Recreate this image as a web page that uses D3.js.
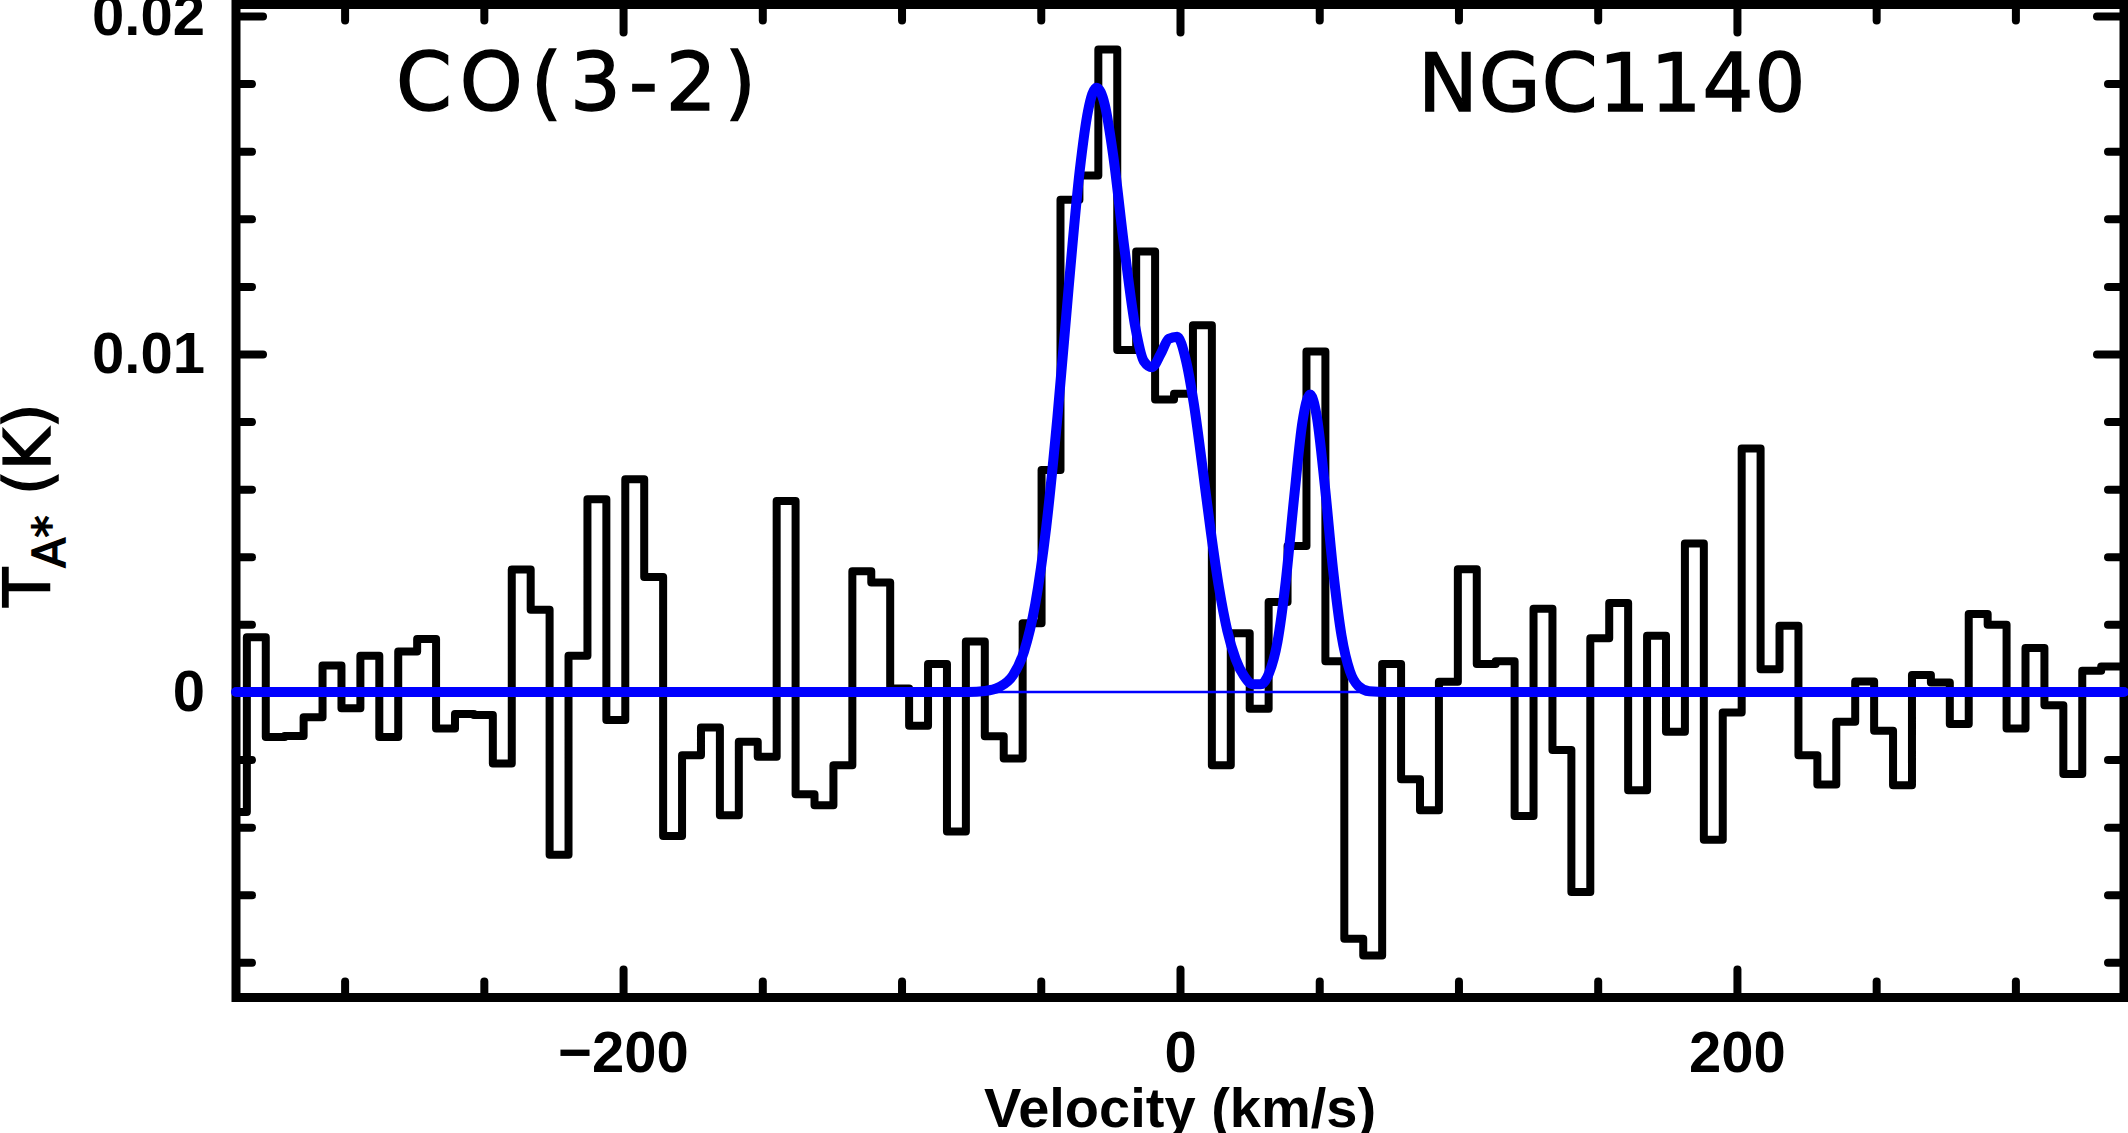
<!DOCTYPE html>
<html>
<head>
<meta charset="utf-8">
<script src="https://cdn.jsdelivr.net/npm/d3@7"></script>
<style>
  body { margin: 0; background: #fff; }
  svg { display: block; }
</style>
</head>
<body>
<div id="chart"></div>
<script>
// --------------- Data --------------- //

// channel grid of the spectrum (km/s)
const velStart = -338.5,
    velStep = 6.795;

// antenna temperature per channel (K)
const tA = [
    -0.00355, 0.00162, -0.00133, -0.00130, -0.00075, 0.00078, -0.00048, 0.00107, -0.00133, 0.00120,
    0.00157, -0.00108, -0.00065, -0.00068, -0.00212, 0.00362, 0.00243, -0.00482, 0.00107, 0.00570,
    -0.00083, 0.00629, 0.00340, -0.00426, -0.00187, -0.00105, -0.00365, -0.00147, -0.00192, 0.00565,
    -0.00303, -0.00335, -0.00217, 0.00357, 0.00324, 0.00010, -0.00100, 0.00083, -0.00413, 0.00149,
    -0.00131, -0.00197, 0.00203, 0.00657, 0.01456, 0.01528, 0.01901, 0.01012, 0.01303, 0.00865,
    0.00882, 0.01085, -0.00217, 0.00174, -0.00050, 0.00266, 0.00432, 0.01007, 0.00091, -0.00730,
    -0.00780, 0.00083, -0.00258, -0.00350, 0.00030, 0.00363, 0.00083, 0.00091, -0.00367, 0.00246,
    -0.00172, -0.00592, 0.00159, 0.00263, -0.00291, 0.00166, -0.00118, 0.00439, -0.00437, -0.00061,
    0.00720, 0.00067, 0.00196, -0.00187, -0.00274, -0.00088, 0.00031, -0.00115, -0.00276, 0.00050,
    0.00028, -0.00095, 0.00231, 0.00199, -0.00108, 0.00130, -0.00039, -0.00243, 0.00063, 0.00075,
    0.00075
];

// gaussian fit
const fitVel = [-339, -76, -70, -65, -60, -56, -52, -48, -44, -40, -36, -33, -30, -27, -24, -20,
    -16, -13, -10, -7, -4, -1, 2, 5, 8, 11, 14, 17, 20, 23, 26, 29, 32, 35, 38, 41, 44, 46.7,
    49, 52, 55, 58, 61, 64, 68, 74, 339];
const fitT = [0, 0, 0.00003, 0.00014, 0.00049, 0.0012, 0.00259, 0.0049, 0.00815, 0.01195, 0.01543,
    0.0172, 0.01788, 0.01737, 0.01588, 0.01315, 0.01077, 0.00979, 0.00961, 0.00999, 0.01045,
    0.01051, 0.00986, 0.00851, 0.00669, 0.00478, 0.00309, 0.00181, 0.00097, 0.00047, 0.00023,
    0.00023, 0.00056, 0.00148, 0.00329, 0.00577, 0.008, 0.0088, 0.00821, 0.00611, 0.00359,
    0.00167, 0.00062, 0.00018, 0.00002, 0, 0];

// ticks
const xMajor = [-200, 0, 200];
const xMinor = [-300, -250, -150, -100, -50, 50, 100, 150, 250, 300];
const yMajor = [0, 0.01, 0.02];
const yMajorText = ["0", "0.01", "0.02"];
const yMinor = [-0.008, -0.006, -0.004, -0.002, 0.002, 0.004, 0.006, 0.008,
    0.012, 0.014, 0.016, 0.018];

const xDomain = [-339, 339],
    yDomain = [-0.00904, 0.02034];

// --------------- Basic Setup --------------- //

const width = 2128,
    height = 1133;
const margin = {top: 4.5, right: 4, bottom: 135.5, left: 236};

const svg = d3.select("#chart")
    .append("svg")
    .attr("width", width)
    .attr("height", height)
    .attr("viewBox", [0, 0, width, height]);

const x = d3.scaleLinear().domain(xDomain).range([margin.left, width - margin.right]);
const y = d3.scaleLinear().domain(yDomain).range([height - margin.bottom, margin.top]);

svg.append("clipPath")
    .attr("id", "plotclip")
    .append("rect")
    .attr("x", margin.left)
    .attr("y", margin.top)
    .attr("width", width - margin.left - margin.right)
    .attr("height", height - margin.top - margin.bottom);

// --------------- Spectrum --------------- //

const spec = tA.map((t, i) => ({v: velStart + i * velStep, t: t}));
const fit = fitVel.map((v, i) => ({v: v, t: fitT[i]}));

const plot = svg.append("g").attr("clip-path", "url(#plotclip)");

plot.append("path")
    .datum(spec)
    .attr("fill", "none")
    .attr("stroke", "#000")
    .attr("stroke-width", 8)
    .attr("stroke-linejoin", "round")
    .attr("d", d3.line().x(d => x(d.v)).y(d => y(d.t)).curve(d3.curveStep));

// zero line
plot.append("line")
    .attr("x1", x(xDomain[0]))
    .attr("x2", x(xDomain[1]))
    .attr("y1", y(0))
    .attr("y2", y(0))
    .attr("stroke", "#0000ff")
    .attr("stroke-width", 2.5);

// --------------- Axes --------------- //

const tickFont = "'Liberation Sans', Arial, sans-serif";

function styleAxis(g) {
    g.select(".domain").remove();
    g.selectAll(".tick line")
        .attr("stroke", "#000")
        .attr("stroke-width", 8)
        .attr("stroke-linecap", "round");
    g.selectAll(".tick text")
        .attr("fill", "#000")
        .attr("font-family", tickFont)
        .attr("font-weight", "bold")
        .attr("font-size", 58);
}

const yB = height - margin.bottom,
    xL = margin.left,
    xR = width - margin.right;

// bottom
svg.append("g")
    .attr("transform", `translate(0,${yB})`)
    .call(d3.axisBottom(x).tickValues(xMajor).tickSize(-28).tickSizeOuter(0).tickPadding(33))
    .call(styleAxis);
svg.append("g")
    .attr("transform", `translate(0,${yB})`)
    .call(d3.axisBottom(x).tickValues(xMinor).tickSize(-16).tickSizeOuter(0).tickFormat(""))
    .call(styleAxis);
// top
svg.append("g")
    .attr("transform", `translate(0,${margin.top})`)
    .call(d3.axisTop(x).tickValues(xMajor).tickSize(-28).tickSizeOuter(0).tickFormat(""))
    .call(styleAxis);
svg.append("g")
    .attr("transform", `translate(0,${margin.top})`)
    .call(d3.axisTop(x).tickValues(xMinor).tickSize(-16).tickSizeOuter(0).tickFormat(""))
    .call(styleAxis);
// left
svg.append("g")
    .attr("transform", `translate(${xL},0)`)
    .call(d3.axisLeft(y).tickValues(yMajor).tickSize(-27).tickSizeOuter(0).tickPadding(31)
        .tickFormat((d, i) => yMajorText[i]))
    .call(styleAxis);
svg.append("g")
    .attr("transform", `translate(${xL},0)`)
    .call(d3.axisLeft(y).tickValues(yMinor).tickSize(-16).tickSizeOuter(0).tickFormat(""))
    .call(styleAxis);
// right
svg.append("g")
    .attr("transform", `translate(${xR},0)`)
    .call(d3.axisRight(y).tickValues(yMajor).tickSize(-27).tickSizeOuter(0).tickFormat(""))
    .call(styleAxis);
svg.append("g")
    .attr("transform", `translate(${xR},0)`)
    .call(d3.axisRight(y).tickValues(yMinor).tickSize(-16).tickSizeOuter(0).tickFormat(""))
    .call(styleAxis);

// frame
svg.append("rect")
    .attr("x", xL)
    .attr("y", margin.top)
    .attr("width", xR - xL)
    .attr("height", yB - margin.top)
    .attr("fill", "none")
    .attr("stroke", "#000")
    .attr("stroke-width", 9);

// fit on top of the frame, like the original plot
svg.append("path")
    .datum(fit)
    .attr("fill", "none")
    .attr("stroke", "#0000ff")
    .attr("stroke-width", 10)
    .attr("stroke-linejoin", "round")
    .attr("stroke-linecap", "round")
    .attr("d", d3.line().x(d => x(d.v)).y(d => y(d.t)).curve(d3.curveMonotoneX));

// --------------- Labels --------------- //

svg.append("text")
    .attr("x", (xL + xR) / 2)
    .attr("y", 1127)
    .attr("text-anchor", "middle")
    .attr("font-family", tickFont)
    .attr("font-weight", "bold")
    .attr("font-size", 56)
    .text("Velocity (km/s)");

const yTitle = svg.append("text")
    .attr("transform", `translate(50,${(margin.top + yB) / 2 + 4}) rotate(-90)`)
    .attr("text-anchor", "middle")
    .attr("font-family", "'DejaVu Sans', sans-serif")
    .attr("font-size", 64)
    .attr("stroke", "#000")
    .attr("stroke-width", 1.5);
yTitle.append("tspan").text("T");
yTitle.append("tspan").attr("font-size", 44).attr("dy", 15).text("A*");
yTitle.append("tspan").attr("dy", -15).text(" (K)");

const lineLabel = "CO(3-2)",
    galaxyLabel = "NGC1140";

svg.append("text")
    .attr("x", 396)
    .attr("y", 110)
    .attr("font-family", "'DejaVu Sans', sans-serif")
    .attr("font-size", 80)
    .attr("letter-spacing", 8)
    .attr("stroke", "#000")
    .attr("stroke-width", 1.5)
    .text(lineLabel);

svg.append("text")
    .attr("x", 1418)
    .attr("y", 111)
    .attr("font-family", "'DejaVu Sans', sans-serif")
    .attr("font-size", 80)
    .attr("letter-spacing", 1)
    .attr("stroke", "#000")
    .attr("stroke-width", 1.5)
    .text(galaxyLabel);
</script>
</body>
</html>
